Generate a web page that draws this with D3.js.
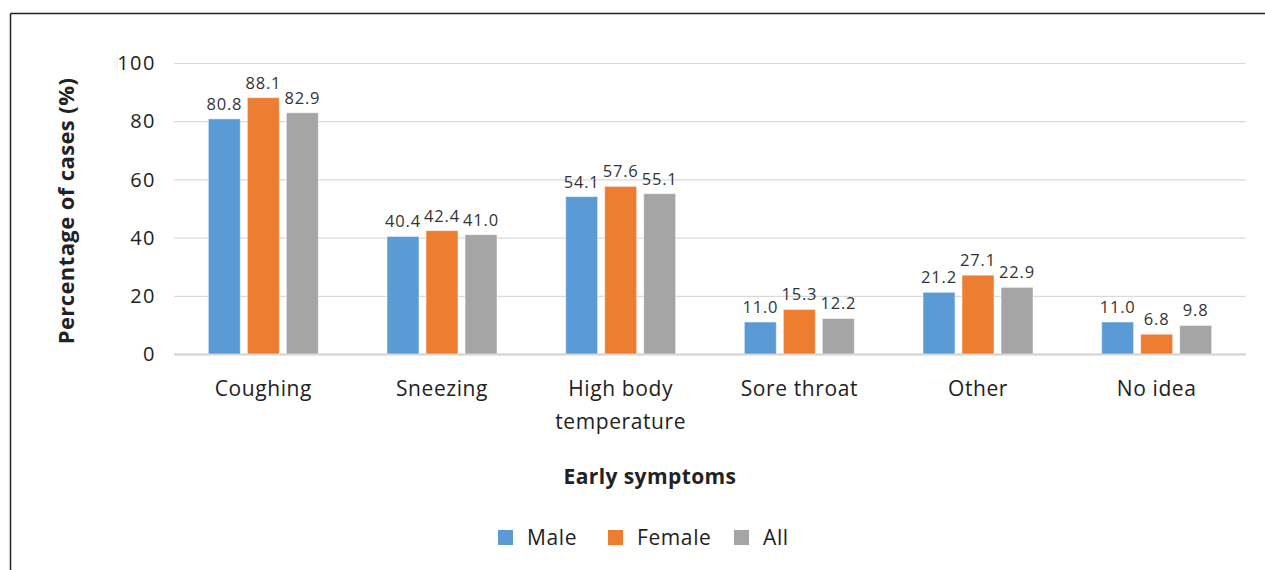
<!DOCTYPE html>
<html>
<head>
<meta charset="utf-8">
<script src="https://cdn.jsdelivr.net/npm/d3@7"></script>
<style>
  body { margin: 0; background: #fff; }
  svg { font-family: "Open Sans", "Noto Sans", sans-serif; }
</style>
</head>
<body>
<div id="chart"></div>
<script>
const categories = ["Coughing", "Sneezing", "High body temperature", "Sore throat", "Other", "No idea"];
const categoryLines = [["Coughing"], ["Sneezing"], ["High body", "temperature"], ["Sore throat"], ["Other"], ["No idea"]];
const seriesNames = ["Male", "Female", "All"];
const male = [80.8, 40.4, 54.1, 11.0, 21.2, 11.0];
const female = [88.1, 42.4, 57.6, 15.3, 27.1, 6.8];
const all = [82.9, 41.0, 55.1, 12.2, 22.9, 9.8];
const yTicks = [0, 20, 40, 60, 80, 100];

const width = 1265, height = 570;
const plot = { left: 174, right: 1246, top: 63, bottom: 354 };

const svg = d3.select("#chart").append("svg")
    .attr("width", width)
    .attr("height", height);

// frame lines (top and left)
svg.append("line").attr("x1", 10.5).attr("x2", width).attr("y1", 13.5).attr("y2", 13.5)
    .attr("stroke", "#222").attr("stroke-width", 1.5);
svg.append("line").attr("x1", 10.5).attr("x2", 10.5).attr("y1", 13.5).attr("y2", height)
    .attr("stroke", "#222").attr("stroke-width", 1.5);

const x0 = d3.scaleBand()
    .domain(categories)
    .range([plot.left, plot.right])
    .padding(0);

const x1 = d3.scaleBand()
    .domain(seriesNames)
    .range([-55, 55])
    .paddingInner(0.18);

const y = d3.scaleLinear()
    .domain([0, 100])
    .range([plot.bottom, plot.top]);

const color = d3.scaleOrdinal()
    .domain(seriesNames)
    .range(["#5B9BD5", "#ED7D31", "#A5A5A5"]);

// gridlines
svg.append("g")
    .selectAll("line")
    .data(yTicks)
    .enter().append("line")
    .attr("x1", plot.left)
    .attr("x2", plot.right)
    .attr("y1", d => y(d) + 0.5)
    .attr("y2", d => y(d) + 0.5)
    .attr("stroke", d => d === 0 ? "#d0d0d0" : "#d9d9d9")
    .attr("stroke-width", d => d === 0 ? 2 : 1.2);

// y tick labels
svg.append("g")
    .selectAll("text")
    .data(yTicks)
    .enter().append("text")
    .attr("x", 156)
    .attr("y", d => y(d))
    .attr("dy", "0.36em")
    .attr("text-anchor", "end")
    .attr("font-size", 20)
    .attr("letter-spacing", 1.5)
    .attr("fill", "#222")
    .text(d => d);

const rows = categories.map((c, i) => ({
    cat: c,
    values: [
        { key: "Male", value: male[i] },
        { key: "Female", value: female[i] },
        { key: "All", value: all[i] }
    ]
}));

const groups = svg.selectAll(".cat-group")
    .data(rows)
    .enter().append("g")
    .attr("class", "cat-group")
    .attr("transform", d => `translate(${x0(d.cat) + x0.bandwidth() / 2},0)`);

groups.selectAll("rect")
    .data(d => d.values)
    .enter().append("rect")
    .attr("x", d => x1(d.key))
    .attr("y", d => y(d.value))
    .attr("width", x1.bandwidth())
    .attr("height", d => y(0) - y(d.value))
    .attr("fill", d => color(d.key))
    .attr("stroke", "#fff")
    .attr("stroke-opacity", 0.5)
    .attr("stroke-width", 1);

groups.selectAll(".val")
    .data(d => d.values)
    .enter().append("text")
    .attr("class", "val")
    .attr("x", d => x1(d.key) + x1.bandwidth() / 2)
    .attr("y", d => y(d.value) - 9)
    .attr("text-anchor", "middle")
    .attr("font-size", 16.5)
    .attr("letter-spacing", 0.8)
    .attr("fill", "#333")
    .text(d => d.value.toFixed(1));

// category labels
groups.each(function(d, i) {
    const t = d3.select(this).append("text")
        .attr("text-anchor", "middle")
        .attr("font-size", 21)
        .attr("letter-spacing", 0.6)
        .attr("fill", "#222");
    categoryLines[i].forEach((line, j) => {
        t.append("tspan")
            .attr("x", 0)
            .attr("y", 396 + j * 33)
            .text(line);
    });
});

// axis titles
svg.append("text")
    .attr("x", 650)
    .attr("y", 484)
    .attr("text-anchor", "middle")
    .attr("font-size", 21)
    .attr("letter-spacing", 0.4)
    .attr("font-weight", "bold")
    .attr("fill", "#222")
    .text("Early symptoms");

svg.append("text")
    .attr("transform", "translate(74,211) rotate(-90)")
    .attr("text-anchor", "middle")
    .attr("font-size", 22)
    .attr("letter-spacing", 0.4)
    .attr("font-weight", "bold")
    .attr("fill", "#222")
    .text("Percentage of cases (%)");

// legend
const legendX = [498, 608, 734];
const legend = svg.append("g");
legend.selectAll(".legend-item")
    .data(seriesNames)
    .enter().append("g")
    .attr("class", "legend-item")
    .attr("transform", (d, i) => `translate(${legendX[i]},530)`)
    .each(function(d) {
        const item = d3.select(this);
        item.append("rect")
            .attr("width", 15)
            .attr("height", 15)
            .attr("fill", color(d));
        item.append("text")
            .attr("x", 29)
            .attr("y", 7.5)
            .attr("dy", "0.36em")
            .attr("font-size", 21)
            .attr("letter-spacing", 0.6)
            .attr("fill", "#222")
            .text(d);
    });
</script>
</body>
</html>
